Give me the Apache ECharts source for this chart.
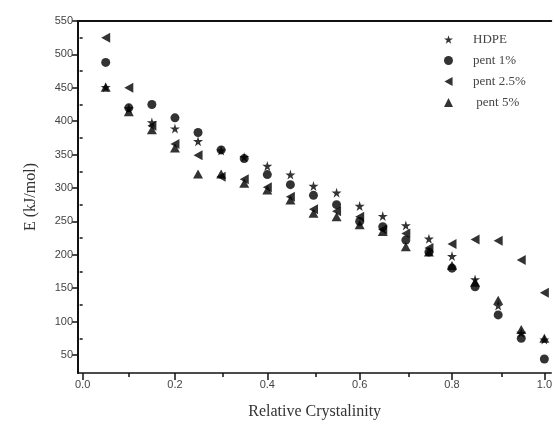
<!DOCTYPE html>
<html>
<head>
<meta charset="utf-8">
<script src="https://cdn.jsdelivr.net/npm/echarts@6/dist/echarts.min.js"></script>
<style>
html,body{margin:0;padding:0;background:#fff;}
#main{width:555px;height:432px;}
</style>
</head>
<body>
<div id="main"></div>
<script>
// relative crystallinity (x) and activation energy E for each sample
var crystallinity = [0.05, 0.1, 0.15, 0.2, 0.25, 0.3, 0.35, 0.4, 0.45, 0.5, 0.55, 0.6, 0.65, 0.7, 0.75, 0.8, 0.85, 0.9, 0.95, 1.0];
var hdpe   = [451, 419, 398, 389, 370, 356, 346, 333, 320, 303, 293, 273, 258, 244, 224, 198, 163, 124, 83, 73];
var pent1  = [488, 420, 425, 405, 383, 357, 344, 320, 305, 289, 275, 250, 242, 222, 204, 180, 152, 110, 75, 44];
var pent25 = [525, 450, 393, 366, 349, 317, 313, 301, 287, 268, 265, 257, 238, 232, 210, 216, 223, 221, 192, 143];
var pent5  = [451, 414, 387, 360, 321, 321, 307, 297, 282, 262, 257, 245, 235, 212, 204, 184, 159, 132, 88, 75];

var yMajor = [50, 100, 150, 200, 250, 300, 350, 400, 450, 500, 550];
var yMinor = [75, 125, 175, 225, 275, 325, 375, 425, 475, 525];
var xMajor = [0, 0.2, 0.4, 0.6, 0.8, 1.0];
var xMinor = [0.1, 0.3, 0.5, 0.7, 0.9];

var starPath = 'path://M50,0 L61,35 L98,35 L68,57 L79,91 L50,70 L21,91 L32,57 L2,35 L39,35 Z';
var leftTriPath = 'path://M0,50 L90,0 L90,100 Z';

function pairs(ys){
    var out = [];
    for(var i = 0;i<crystallinity.length;i++){
        out.push([crystallinity[i], ys[i]]);
    }
    return out;
}

var serifFont = '"Liberation Serif", "DejaVu Serif", serif';
var sansFont = '"Liberation Sans", Arial, sans-serif';

var myChart = echarts.init(document.getElementById('main'));

var gridBox = {left: 78, top: 21, right: 0, bottom: 59};

var option = {
    animation: false,
    backgroundColor: '#fff',
    grid: [
        {left: gridBox.left, top: gridBox.top, right: gridBox.right, bottom: gridBox.bottom},
        {left: gridBox.left, top: gridBox.top, right: gridBox.right, bottom: gridBox.bottom}
    ],
    legend: {
        orient: 'vertical',
        left: 439,
        top: 28,
        itemWidth: 9,
        itemHeight: 9,
        itemGap: 8,
        textStyle: {fontFamily: serifFont, fontSize: 13, color: '#444', padding: [0, 0, 0, 15]},
        data: ['HDPE', 'pent 1%', 'pent 2.5%', ' pent 5%']
    },
    xAxis: [
        {
            type: 'value', gridIndex: 0, position: 'bottom',
            min: -0.01, max: 1.015,
            name: 'Relative Crystalinity',
            nameLocation: 'middle',
            nameGap: 31,
            nameTextStyle: {fontFamily: serifFont, fontSize: 16, color: '#333'},
            axisLine: {show: true, onZero: false, lineStyle: {color: '#111', width: 1.5}},
            axisTick: {show: true, inside: false, length: 7, customValues: xMajor, lineStyle: {color: '#111', width: 1.5}},
            axisLabel: {
                customValues: xMajor,
                fontFamily: sansFont, fontSize: 11, color: '#444', margin: 6,
                formatter: function(v){ return v.toFixed(1); }
            },
            splitLine: {show: false}
        },
        {
            // top frame line
            type: 'value', gridIndex: 0, position: 'top',
            min: -0.01, max: 1.015,
            axisLine: {show: true, onZero: false, lineStyle: {color: '#111', width: 2}},
            axisTick: {show: false}, axisLabel: {show: false}, splitLine: {show: false}
        },
        {
            // minor ticks on x
            type: 'value', gridIndex: 1, position: 'bottom',
            min: -0.01, max: 1.015,
            axisLine: {show: false},
            axisTick: {show: true, inside: false, length: 4, customValues: xMinor, lineStyle: {color: '#111', width: 1.5}},
            axisLabel: {show: false}, splitLine: {show: false}
        }
    ],
    yAxis: [
        {
            type: 'value', gridIndex: 0, position: 'left',
            min: 23, max: 550,
            name: 'E (kJ/mol)',
            nameLocation: 'middle',
            nameGap: 39,
            nameTextStyle: {fontFamily: serifFont, fontSize: 16, color: '#333'},
            axisLine: {show: true, onZero: false, lineStyle: {color: '#111', width: 2}},
            axisTick: {show: true, inside: false, length: 6, customValues: yMajor, lineStyle: {color: '#111', width: 1.5}},
            axisLabel: {customValues: yMajor, fontFamily: sansFont, fontSize: 11, color: '#444', margin: 5},
            splitLine: {show: false}
        },
        {
            // minor ticks on y
            type: 'value', gridIndex: 1, position: 'left',
            min: 23, max: 550,
            axisLine: {show: false},
            axisTick: {show: true, inside: false, length: 3, customValues: yMinor, lineStyle: {color: '#111', width: 1.5}},
            axisLabel: {show: false}, splitLine: {show: false}
        }
    ],
    series: [
        {
            name: 'HDPE', type: 'scatter', xAxisIndex: 0, yAxisIndex: 0,
            symbol: starPath, symbolSize: 10,
            itemStyle: {color: '#000'},
            data: pairs(hdpe)
        },
        {
            name: 'pent 1%', type: 'scatter', xAxisIndex: 0, yAxisIndex: 0,
            symbol: 'circle', symbolSize: 9,
            itemStyle: {color: '#000'},
            data: pairs(pent1)
        },
        {
            name: 'pent 2.5%', type: 'scatter', xAxisIndex: 0, yAxisIndex: 0,
            symbol: leftTriPath, symbolSize: [9, 10],
            itemStyle: {color: '#000'},
            data: pairs(pent25)
        },
        {
            name: ' pent 5%', type: 'scatter', xAxisIndex: 0, yAxisIndex: 0,
            symbol: 'triangle', symbolSize: [10, 9],
            itemStyle: {color: '#000'},
            data: pairs(pent5)
        }
    ]
};

myChart.setOption(option);

window.addEventListener("resize", function() {
    myChart.resize();
});
</script>
</body>
</html>
